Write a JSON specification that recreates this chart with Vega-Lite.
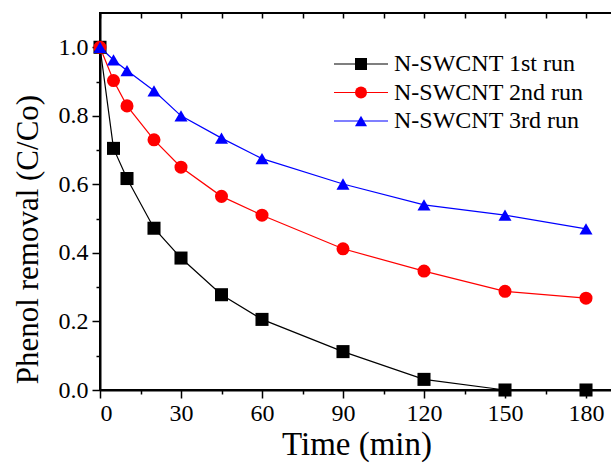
{
  "$schema": "https://vega.github.io/schema/vega-lite/v6.json",
  "width": 513,
  "height": 377,
  "autosize": {"type": "none"},
  "padding": {"left": 100, "top": 13, "right": 0, "bottom": 74},
  "background": "white",
  "data": {"values": [
    {"t": 0, "c": 1.0, "s": "N-SWCNT 1st run"},
    {"t": 5, "c": 0.705, "s": "N-SWCNT 1st run"},
    {"t": 10, "c": 0.617, "s": "N-SWCNT 1st run"},
    {"t": 20, "c": 0.472, "s": "N-SWCNT 1st run"},
    {"t": 30, "c": 0.385, "s": "N-SWCNT 1st run"},
    {"t": 45, "c": 0.278, "s": "N-SWCNT 1st run"},
    {"t": 60, "c": 0.206, "s": "N-SWCNT 1st run"},
    {"t": 90, "c": 0.112, "s": "N-SWCNT 1st run"},
    {"t": 120, "c": 0.031, "s": "N-SWCNT 1st run"},
    {"t": 150, "c": 0.0, "s": "N-SWCNT 1st run"},
    {"t": 180, "c": 0.0, "s": "N-SWCNT 1st run"},
    {"t": 0, "c": 1.0, "s": "N-SWCNT 2nd run"},
    {"t": 5, "c": 0.903, "s": "N-SWCNT 2nd run"},
    {"t": 10, "c": 0.829, "s": "N-SWCNT 2nd run"},
    {"t": 20, "c": 0.730, "s": "N-SWCNT 2nd run"},
    {"t": 30, "c": 0.650, "s": "N-SWCNT 2nd run"},
    {"t": 45, "c": 0.565, "s": "N-SWCNT 2nd run"},
    {"t": 60, "c": 0.510, "s": "N-SWCNT 2nd run"},
    {"t": 90, "c": 0.412, "s": "N-SWCNT 2nd run"},
    {"t": 120, "c": 0.347, "s": "N-SWCNT 2nd run"},
    {"t": 150, "c": 0.288, "s": "N-SWCNT 2nd run"},
    {"t": 180, "c": 0.268, "s": "N-SWCNT 2nd run"},
    {"t": 0, "c": 1.0, "s": "N-SWCNT 3rd run"},
    {"t": 5, "c": 0.963, "s": "N-SWCNT 3rd run"},
    {"t": 10, "c": 0.932, "s": "N-SWCNT 3rd run"},
    {"t": 20, "c": 0.873, "s": "N-SWCNT 3rd run"},
    {"t": 30, "c": 0.800, "s": "N-SWCNT 3rd run"},
    {"t": 45, "c": 0.735, "s": "N-SWCNT 3rd run"},
    {"t": 60, "c": 0.675, "s": "N-SWCNT 3rd run"},
    {"t": 90, "c": 0.601, "s": "N-SWCNT 3rd run"},
    {"t": 120, "c": 0.540, "s": "N-SWCNT 3rd run"},
    {"t": 150, "c": 0.510, "s": "N-SWCNT 3rd run"},
    {"t": 180, "c": 0.470, "s": "N-SWCNT 3rd run"}
  ]},
  "layer": [
    {
      "mark": {"type": "line", "strokeWidth": 1.2, "clip": false},
      "encoding": {
        "x": {"field": "t", "type": "quantitative",
          "scale": {"domain": [0, 190], "nice": false, "zero": false},
          "axis": {"orient": "bottom", "title": "Time (min)",
            "values": [0, 15, 30, 45, 60, 75, 90, 105, 120, 135, 150, 165, 180],
            "labelExpr": "datum.value % 30 === 0 ? datum.label : ''",
            "tickSize": {"condition": {"test": "datum.value % 30 === 0", "value": 8}, "value": 4},
            "labelFont": "Liberation Serif", "titleFont": "Liberation Serif", "titleFontSize": 33,
            "labelPadding": 3, "titleY": 64, "titleBaseline": "alphabetic"}},
        "y": {"field": "c", "type": "quantitative",
          "scale": {"domain": [0, 1.1], "nice": false, "zero": false},
          "axis": {"orient": "left", "title": "Phenol removal (C/Co)",
            "values": [0, 0.1, 0.2, 0.3, 0.4, 0.5, 0.6, 0.7, 0.8, 0.9, 1.0],
            "format": ".1f",
            "labelExpr": "round(datum.value * 10) % 2 === 0 ? datum.label : ''",
            "tickSize": {"condition": {"test": "round(datum.value * 10) % 2 === 0", "value": 8}, "value": 4},
            "labelFont": "Liberation Serif", "titleFont": "Liberation Serif", "titleFontSize": 31,
            "labelPadding": 4, "titleX": -72, "titleY": 226, "titleBaseline": "middle", "titleAlign": "center"}},
        "color": {"field": "s", "type": "nominal",
          "scale": {"domain": ["N-SWCNT 1st run", "N-SWCNT 2nd run", "N-SWCNT 3rd run"], "range": ["#000000", "#ff0000", "#0000ff"]},
          "legend": {"orient": "none", "legendX": 249, "legendY": 39, "title": null,
            "symbolType": "M-4.5,0H4.5", "symbolSize": 144, "symbolStrokeWidth": 1.2,
            "labelOpacity": 0, "labelOffset": 21}}
      }
    },
    {
      "mark": {"type": "point", "filled": true, "opacity": 1, "size": 170, "clip": false},
      "encoding": {
        "x": {"field": "t", "type": "quantitative",
          "axis": {"orient": "top", "title": null, "labels": false, "domain": false,
            "values": [0, 15, 30, 45, 60, 75, 90, 105, 120, 135, 150, 165, 180],
            "ticks": true, "tickSize": 5, "offset": -5, "tickWidth": 1.5, "tickColor": "black"}},
        "y": {"field": "c", "type": "quantitative", "axis": null},
        "color": {"field": "s", "type": "nominal",
          "scale": {"domain": ["N-SWCNT 1st run", "N-SWCNT 2nd run", "N-SWCNT 3rd run"], "range": ["#000000", "#ff0000", "#0000ff"]},
          "legend": {"orient": "none", "legendX": 249, "legendY": 39, "title": null,
            "symbolSize": 144, "labelOffset": 21, "symbolStrokeWidth": 0}},
        "shape": {"field": "s", "type": "nominal",
          "scale": {"domain": ["N-SWCNT 1st run", "N-SWCNT 2nd run", "N-SWCNT 3rd run"], "range": ["square", "circle", "triangle-up"]},
          "legend": {"orient": "none", "legendX": 249, "legendY": 39, "title": null,
            "symbolSize": 144, "labelOffset": 21, "symbolStrokeWidth": 0}}
      }
    }
  ],
  "resolve": {
    "scale": {"color": "independent", "shape": "independent"},
    "axis": {"x": "independent", "y": "independent"},
    "legend": {"color": "independent"}
  },
  "config": {
    "view": {"stroke": "black", "strokeWidth": 2},
    "font": "Liberation Serif",
    "style": {
      "guide-label": {"font": "Liberation Serif"},
      "guide-title": {"font": "Liberation Serif"}
    },
    "axis": {
      "grid": false,
      "domainColor": "black", "domainWidth": 2,
      "tickColor": "black", "tickWidth": 1.5,
      "labelFont": "Liberation Serif", "labelFontSize": 24, "labelColor": "black",
      "titleFont": "Liberation Serif", "titleFontSize": 32, "titleFontWeight": "normal", "titleColor": "black"
    },
    "legend": {
      "labelFont": "Liberation Serif", "labelFontSize": 24, "labelColor": "black",
      "padding": 0, "rowPadding": 4.5, "labelLimit": 400
    }
  }
}
